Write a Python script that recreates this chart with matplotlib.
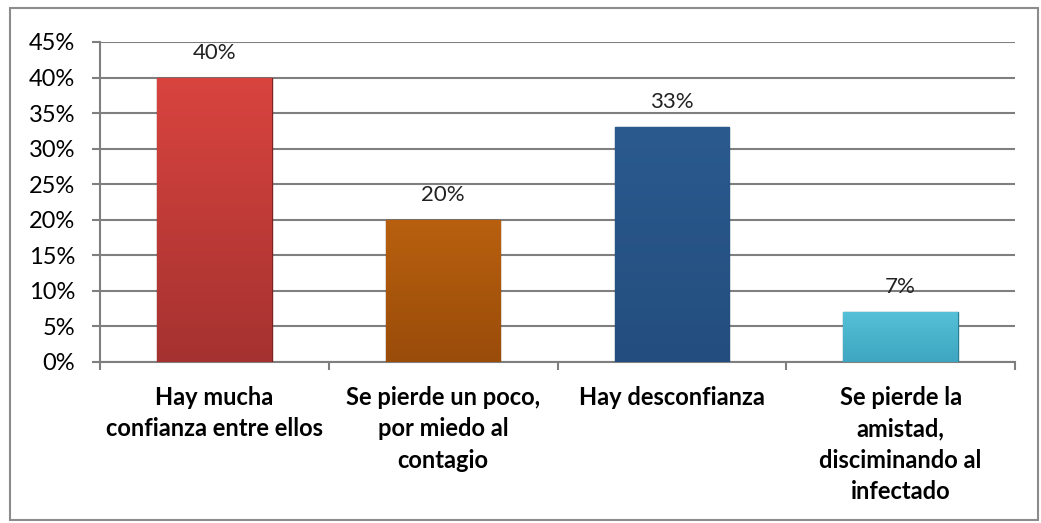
import numpy as np
import matplotlib.pyplot as plt
from matplotlib.patches import Rectangle
from matplotlib.colors import LinearSegmentedColormap

categorias = ['Hay mucha\nconfianza entre ellos',
              'Se pierde un poco,\npor miedo al\ncontagio',
              'Hay desconfianza',
              'Se pierde la\namistad,\ndisciminando al\ninfectado']
valores = [40, 20, 33, 7]
etiquetas = ['40%', '20%', '33%', '7%']
y_ticks = [0, 5, 10, 15, 20, 25, 30, 35, 40, 45]
colores_top = ['#d9443f', '#b8600f', '#2b5a8f', '#56c0d8']
colores_bot = ['#a53230', '#9a4c0a', '#234d7e', '#3ea6c0']
bordes = ['#7a2322', '#6e3606', '#183a60', '#2b7f94']

plt.rcParams['font.family'] = ['Lato', 'DejaVu Sans']

fig = plt.figure(figsize=(10.41, 5.23), dpi=100)
fig.patches.append(Rectangle((10/1041, 3/523), 1028/1041, 512/523, transform=fig.transFigure,
                             fill=False, edgecolor='#8c8c8c', linewidth=1.5))
ax = fig.add_axes([100/1041, 1-362/523, 915/1041, 320/523])

x = np.arange(len(valores))
bars = ax.bar(x, valores, width=0.5, color=colores_top, edgecolor=bordes, linewidth=1, zorder=3)
for b, ct, cb in zip(bars, colores_top, colores_bot):
    cmap = LinearSegmentedColormap.from_list('g', [cb, ct])
    grad = np.linspace(0, 1, 100).reshape(-1, 1)
    x0, y0 = b.get_x(), b.get_y()
    im = ax.imshow(grad, cmap=cmap, origin='lower', aspect='auto', zorder=3,
                   extent=[x0, x0 + b.get_width(), y0, y0 + b.get_height()])
    im.set_clip_path(b)

for xi, v, t in zip(x, valores, etiquetas):
    ax.annotate(t, (xi, v), xytext=(0, 18), textcoords='offset points',
                ha='center', va='center', fontsize=16, color='#222222')

ax.set_xlim(-0.5, len(valores) - 0.5)
ax.set_ylim(0, 45)
ax.set_yticks(y_ticks)
ax.set_yticklabels([f'{t}%' for t in y_ticks], fontsize=17)
ax.yaxis.grid(True, color='#7f7f7f', linewidth=1.5, zorder=0)
ax.set_axisbelow(True)

ax.set_xticks(np.arange(len(valores) + 1) - 0.5)
ax.set_xticklabels([])
ax.set_xticks(x, minor=True)
ax.set_xticklabels(categorias, minor=True, fontsize=17, fontweight='bold', va='top',
                   linespacing=1.45)
ax.tick_params(axis='x', which='minor', length=0, pad=17)
ax.tick_params(axis='x', which='major', length=6, color='#7f7f7f', width=1.5)
ax.tick_params(axis='y', length=6, color='#7f7f7f', width=1.5, pad=12)
for s in ['top', 'right']:
    ax.spines[s].set_visible(False)
for s in ['left', 'bottom']:
    ax.spines[s].set_color('#7f7f7f')
    ax.spines[s].set_linewidth(1.5)

fig.savefig('out.png', dpi=100)
